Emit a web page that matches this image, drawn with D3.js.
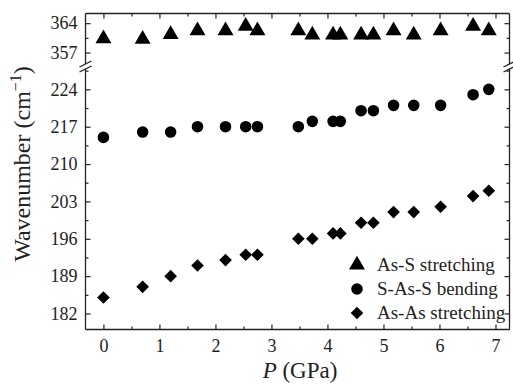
<!DOCTYPE html>
<html>
<head>
<meta charset="utf-8">
<script src="https://cdn.jsdelivr.net/npm/d3@7"></script>
<style>
  body { margin: 0; background: #fff; }
</style>
</head>
<body>
<div id="chart"></div>
<script>
// pressure points (GPa), same for all three modes
const pressure = [0, 0.7, 1.2, 1.68, 2.18, 2.54, 2.75, 3.48, 3.73, 4.1, 4.23, 4.6, 4.82, 5.18, 5.54, 6.02, 6.6, 6.88];
const asS = [360.3, 360.2, 361.3, 362.2, 362.2, 363.3, 362.2, 362.2, 361.2, 361.2, 361.2, 361.2, 361.2, 362.2, 361.2, 362.2, 363.3, 362.2];
const sAsS = [215, 216, 216, 217, 217, 217, 217, 217, 218, 218, 218, 220, 220, 221, 221, 221, 223, 224];
const asAs = [185, 187, 189, 191, 192, 193, 193, 196, 196, 197, 197, 199, 199, 201, 201, 202, 204, 205];

const xTicks = [0, 1, 2, 3, 4, 5, 6, 7];
const yTicksTop = [357, 364];
const yTicksLow = [182, 189, 196, 203, 210, 217, 224];
const seriesNames = ["As-S stretching", "S-As-S bending", "As-As stretching"];

const serif = "Liberation Serif";

function draw() {
  const width = 513;
  const height = 384;
  const left = 85.5, right = 509.5, top = 13.5, bottom = 329.5;
  const breakTop = 64, breakLow = 69;

  const svg = d3.select("#chart").append("svg")
    .attr("width", width)
    .attr("height", height)
    .attr("font-family", serif);

  const x = d3.scaleLinear().domain([-0.32, 7.25]).range([left, right]);
  const yTop = d3.scaleLinear().domain([353.8, 366.3]).range([66, top]);
  const yLow = d3.scaleLinear().domain([179, 228]).range([bottom, 68]);

  const minor = (ticks, step) => ticks.map(t => t + step / 2);

  // axis lines (left/right are split at the break)
  const frame = svg.append("g").attr("stroke", "#222").attr("stroke-width", 1.3).attr("fill", "none");
  frame.append("line").attr("x1", left).attr("x2", right).attr("y1", top).attr("y2", top);
  frame.append("line").attr("x1", left).attr("x2", right).attr("y1", bottom).attr("y2", bottom);
  for (const xx of [left, right]) {
    frame.append("line").attr("x1", xx).attr("x2", xx).attr("y1", top).attr("y2", breakTop);
    frame.append("line").attr("x1", xx).attr("x2", xx).attr("y1", breakLow).attr("y2", bottom);
    for (const yy of [breakTop, breakLow]) {
      frame.append("line")
        .attr("x1", xx - 6).attr("y1", yy + 3)
        .attr("x2", xx + 6).attr("y2", yy - 3);
    }
  }

  function styleAxis(g) {
    g.attr("font-family", serif).attr("font-size", 18);
    g.select(".domain").remove();
    g.selectAll(".tick line").attr("stroke", "#222").attr("stroke-width", 1.2);
    g.selectAll(".tick text").attr("fill", "#222").attr("font-family", serif);
  }

  // bottom
  svg.append("g").attr("transform", `translate(0,${bottom})`)
    .call(d3.axisBottom(x).tickValues(xTicks).tickSize(-5).tickPadding(10).tickFormat(d3.format("d")))
    .call(styleAxis);
  svg.append("g").attr("transform", `translate(0,${bottom})`)
    .call(d3.axisBottom(x).tickValues(minor(xTicks.slice(0, -1), 1)).tickSize(-3).tickFormat(""))
    .call(styleAxis);
  // top
  svg.append("g").attr("transform", `translate(0,${top})`)
    .call(d3.axisTop(x).tickValues(xTicks).tickSize(-5).tickFormat(""))
    .call(styleAxis);
  svg.append("g").attr("transform", `translate(0,${top})`)
    .call(d3.axisTop(x).tickValues(minor(xTicks.slice(0, -1), 1)).tickSize(-3).tickFormat(""))
    .call(styleAxis);

  // left / right for both segments
  for (const [scale, ticks] of [[yTop, yTicksTop], [yLow, yTicksLow]]) {
    const minorTicks = minor(ticks, 7).filter(t => t < scale.domain()[1]);
    svg.append("g").attr("transform", `translate(${left},0)`)
      .call(d3.axisLeft(scale).tickValues(ticks).tickSize(-5).tickPadding(8))
      .call(styleAxis);
    svg.append("g").attr("transform", `translate(${left},0)`)
      .call(d3.axisLeft(scale).tickValues(minorTicks).tickSize(-3).tickFormat(""))
      .call(styleAxis);
    svg.append("g").attr("transform", `translate(${right},0)`)
      .call(d3.axisRight(scale).tickValues(ticks).tickSize(-5).tickFormat(""))
      .call(styleAxis);
    svg.append("g").attr("transform", `translate(${right},0)`)
      .call(d3.axisRight(scale).tickValues(minorTicks).tickSize(-3).tickFormat(""))
      .call(styleAxis);
  }

  // markers
  const tri = d3.symbol(d3.symbolTriangle, 110);
  const circ = d3.symbol(d3.symbolCircle, 105);
  const diam = d3.symbol(d3.symbolSquare, 80);

  const series = [
    { name: seriesNames[0], values: asS, y: yTop, sym: tri, rot: 0 },
    { name: seriesNames[1], values: sAsS, y: yLow, sym: circ, rot: 0 },
    { name: seriesNames[2], values: asAs, y: yLow, sym: diam, rot: 45 }
  ];

  for (const s of series) {
    svg.append("g")
      .selectAll("path")
      .data(pressure.map((p, i) => [p, s.values[i]]))
      .join("path")
      .attr("d", s.sym)
      .attr("fill", "#000")
      .attr("transform", d => `translate(${x(d[0])},${s.y(d[1])}) rotate(${s.rot})`);
  }

  // legend
  const legend = svg.append("g").attr("transform", "translate(357,265)");
  series.forEach((s, i) => {
    const row = legend.append("g").attr("transform", `translate(0,${i * 24})`);
    row.append("path").attr("d", s.sym).attr("fill", "#000")
      .attr("transform", `rotate(${s.rot})`);
    row.append("text")
      .attr("x", 20).attr("y", 6)
      .attr("font-family", serif)
      .attr("font-size", 19).attr("fill", "#222")
      .text(s.name);
  });

  // axis titles
  const xt = svg.append("text")
    .attr("x", 300).attr("y", 378)
    .attr("text-anchor", "middle")
    .attr("font-family", serif)
    .attr("font-size", 23).attr("fill", "#222");
  xt.append("tspan").attr("font-style", "italic").text("P");
  xt.append("tspan").text(" (GPa)");

  const yt = svg.append("text")
    .attr("transform", `translate(30,164) rotate(-90)`)
    .attr("text-anchor", "middle")
    .attr("font-family", serif)
    .attr("font-size", 24).attr("fill", "#222");
  yt.append("tspan").text("Wavenumber (cm");
  yt.append("tspan").attr("dy", -9).attr("font-size", 16).text("\u22121");
  yt.append("tspan").attr("dy", 9).text(")");
}
draw();
</script>
</body>
</html>
